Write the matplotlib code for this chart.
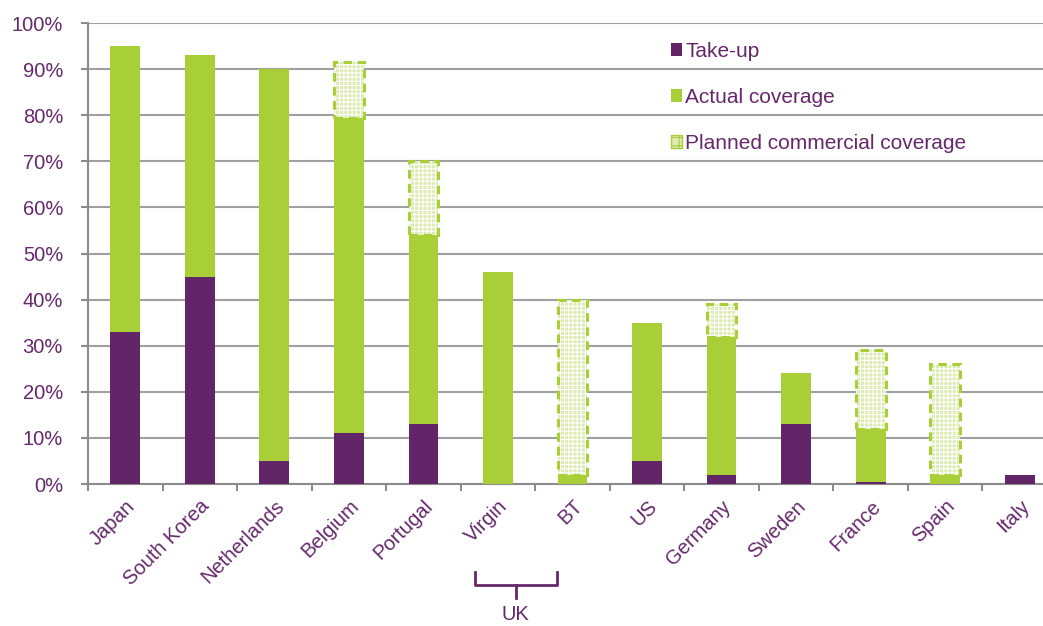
"""
Broadband coverage and take-up by country
=========================================
Stacked bars of take-up and actual coverage, with planned commercial
coverage drawn as a dashed, patterned extension on top.
"""

import numpy as np
import matplotlib
matplotlib.use("Agg")
import matplotlib.pyplot as plt
from matplotlib.patches import Patch
from matplotlib.transforms import blended_transform_factory

# ─────────────────────────────────────────────
# Data (% of premises)
# ─────────────────────────────────────────────

countries = ["Japan", "South Korea", "Netherlands", "Belgium", "Portugal",
             "Virgin", "BT", "US", "Germany", "Sweden", "France", "Spain",
             "Italy"]
take_up  = [33, 45, 5, 11, 13, 0, 0, 5, 2, 13, 0.5, 0, 2]
coverage = [95, 93, 90, 79.5, 54, 46, 2, 35, 32, 24, 12, 2, 2]
planned  = [None, None, None, 91.5, 70, None, 40, None, 39, None, 29, 26, None]

y_ticks = [0, 10, 20, 30, 40, 50, 60, 70, 80, 90, 100]

# ─────────────────────────────────────────────
# Styling
# ─────────────────────────────────────────────

PURPLE = "#622567"
GREEN  = "#A8CE38"
PALE   = "#DCEBB0"
TEXT   = "#65286B"
GREY   = "#8C8C8C"
FS     = 14.5

plt.rcParams["font.family"] = ["Liberation Sans", "DejaVu Sans"]
plt.rcParams["hatch.linewidth"] = 0.8

fig = plt.figure(figsize=(10.43, 6.26), dpi=100)
ax = fig.add_axes([0.0844, 0.2268, 0.929, 0.7364])

x = np.arange(len(countries))
w = 0.40

take_up_arr = np.array(take_up, dtype=float)
cov_arr = np.array(coverage, dtype=float)

ax.bar(x, take_up_arr, w, color=PURPLE, zorder=3)
ax.bar(x, cov_arr - take_up_arr, w, bottom=take_up_arr, color=GREEN, zorder=3)

# planned coverage: patterned fill plus a dashed outline
for xi, cov, plan in zip(x, coverage, planned):
    if plan is None:
        continue
    ax.bar(xi, plan - cov, w, bottom=cov, color=PALE, edgecolor="white",
           hatch="++++", linewidth=0, zorder=3)
    ax.bar(xi, plan - cov, w, bottom=cov, fill=False, edgecolor=GREEN,
           linewidth=2.2, linestyle=(0, (2.8, 1.8)), zorder=4)

# ── axes ──────────────────────────────────────
ax.set_xlim(-0.5, len(countries) - 0.5)
ax.set_ylim(0, 100)
ax.set_yticks(y_ticks)
ax.set_yticklabels([f"{t}%" for t in y_ticks], fontsize=FS, color=TEXT)
ax.tick_params(axis="y", length=5, width=1.5, color=GREY, pad=13)

ax.set_xticks(x)
ax.set_xticklabels(countries, rotation=45, ha="right",
                   rotation_mode="anchor", fontsize=FS, color=TEXT)
ax.tick_params(axis="x", which="major", length=0, pad=9)
ax.set_xticks(np.arange(len(countries) + 1) - 0.5, minor=True)
ax.tick_params(axis="x", which="minor", length=5, width=1.5, color=GREY)

ax.grid(axis="y", color="#A0A0A0", linewidth=1.5, zorder=0)
ax.set_axisbelow(True)
for side in ("top", "right"):
    ax.spines[side].set_visible(False)
for side in ("left", "bottom"):
    ax.spines[side].set_color(GREY)
    ax.spines[side].set_linewidth(1.5)

# ── UK bracket under Virgin / BT ──────────────
tr = blended_transform_factory(ax.transData, ax.transAxes)
bx0, bx1 = 4.69, 5.79
bmid = (bx0 + bx1) / 2
ax.plot([bx0, bx0, bx1, bx1], [-0.191, -0.219, -0.219, -0.191],
        color=TEXT, linewidth=2, transform=tr, clip_on=False)
ax.plot([bmid, bmid], [-0.219, -0.247], color=TEXT, linewidth=2,
        transform=tr, clip_on=False)
ax.text(bmid, -0.283, "UK", transform=tr, ha="center", va="center",
        fontsize=FS, color=TEXT)

# ── legend ────────────────────────────────────
handles = [
    Patch(facecolor=PURPLE, label="Take-up"),
    Patch(facecolor=GREEN, label="Actual coverage"),
    Patch(facecolor=PALE, edgecolor=GREEN, hatch="++", linewidth=1,
          label="Planned commercial coverage"),
]
leg = ax.legend(handles=handles, loc="upper left",
                bbox_to_anchor=(0.582, 1.0), frameon=False, fontsize=15,
                handlelength=0.55, handleheight=0.55, handletextpad=0.15,
                labelspacing=1.3)
for t in leg.get_texts():
    t.set_color(TEXT)

fig.savefig("out.png", dpi=100)
plt.close(fig)
